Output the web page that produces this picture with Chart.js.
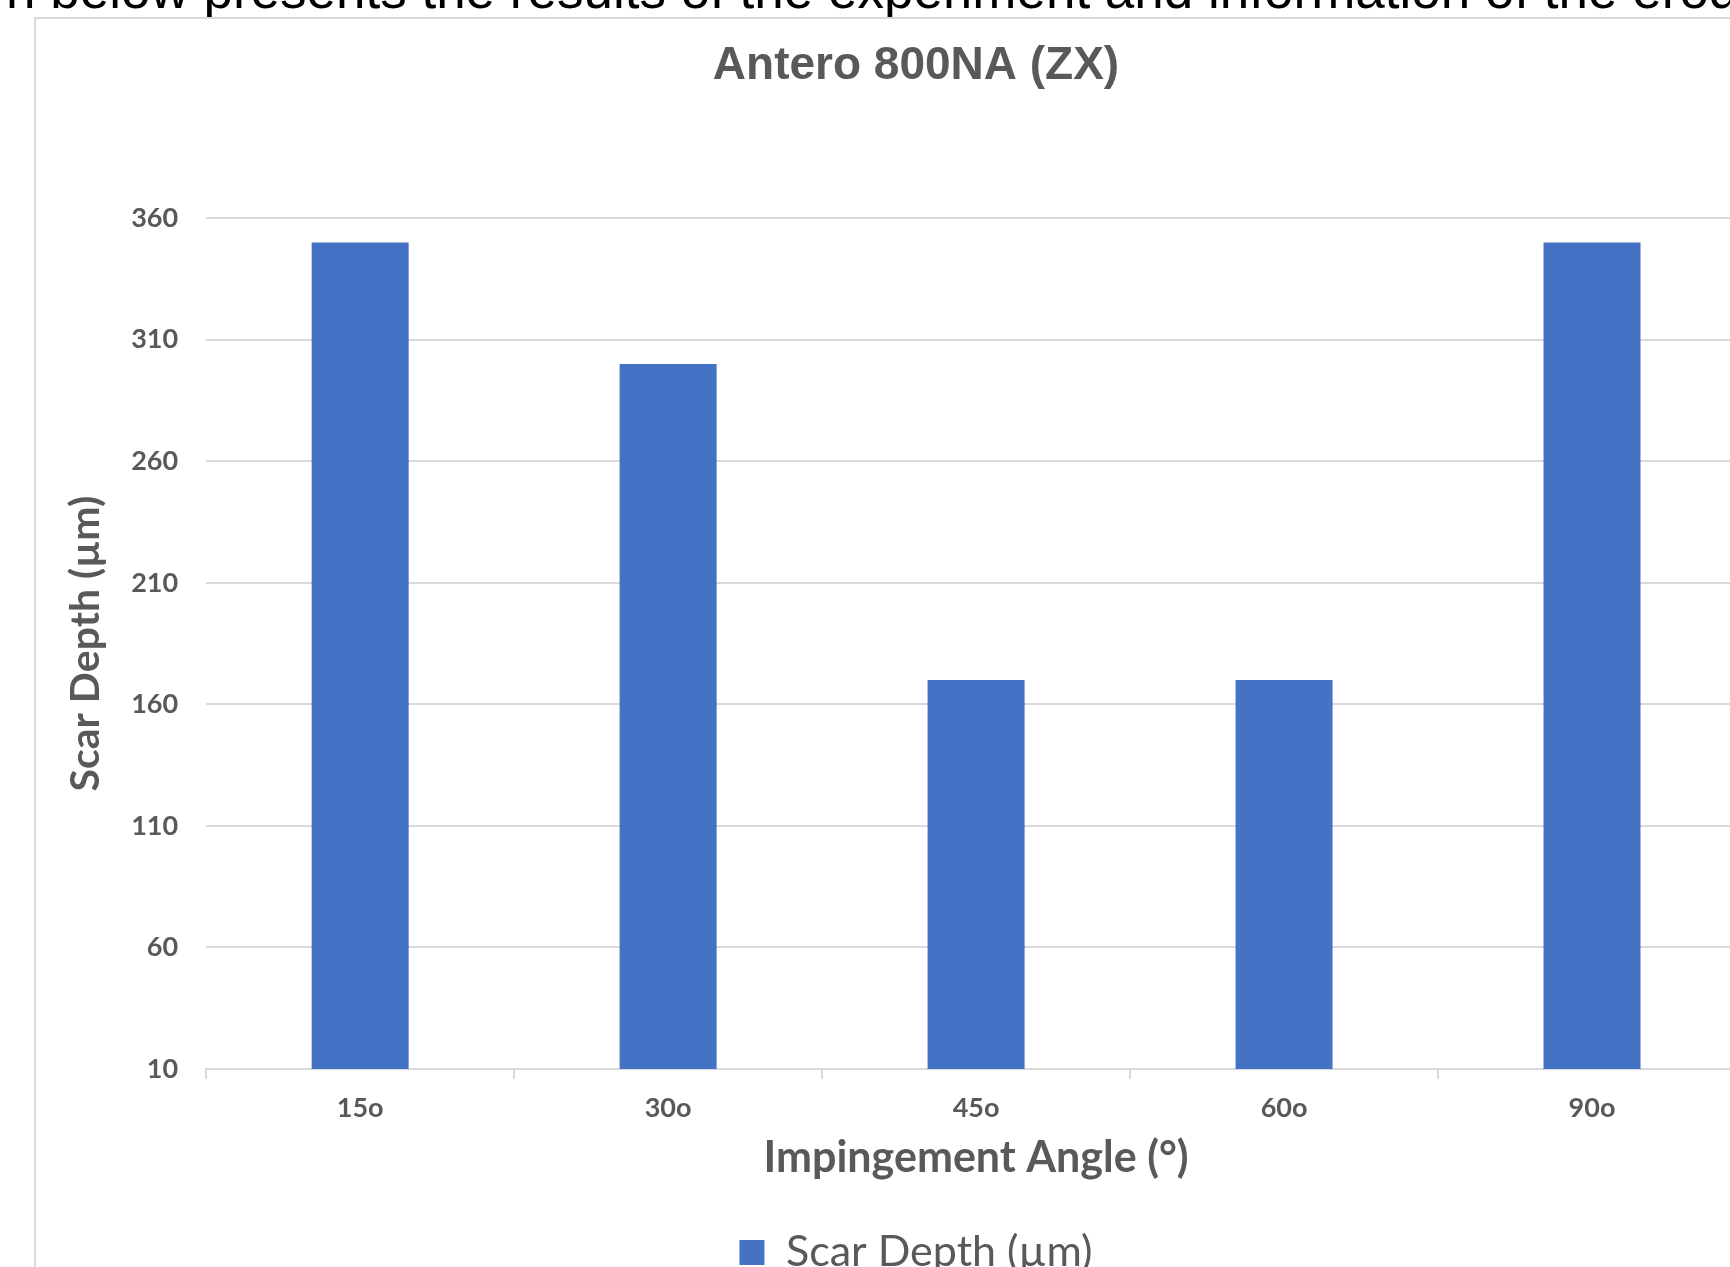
<!DOCTYPE html>
<html>
<head>
<meta charset="utf-8">
<script src="https://cdn.jsdelivr.net/npm/chart.js@4.4.1/dist/chart.umd.min.js"></script>
<style>
    html, body { margin: 0; padding: 0; background: #fff; overflow: hidden; width: 1730px; height: 1267px; }
    #doc-line {
        position: absolute; left: 6px; top: -37px;
        font: 53px/53px "Liberation Sans", Arial, sans-serif;
        color: #000; white-space: nowrap;
    }
    #frame {
        position: absolute; left: 34px; top: 17px;
        width: 1800px; height: 1300px;
        border: 2px solid #d9d9d9; box-sizing: border-box;
    }
    #chart { position: absolute; left: 36px; top: 19px; }
</style>
</head>
<body>
<div id="doc-line">n below presents the results of the experiment and information of the erod</div>
<div id="frame"></div>
<canvas id="chart" width="1760" height="1270"></canvas>
<script>
// --- Data ---
const angles = ['15o', '30o', '45o', '60o', '90o'];
const scarDepth = [350, 300, 170, 170, 350];
const yTicks = [10, 60, 110, 160, 210, 260, 310, 360];

const GREY = '#595959';
const LINE = '#d9d9d9';
const BAR = '#4472c4';

const ctx = document.getElementById('chart').getContext('2d');

new Chart(ctx, {
    type: 'bar',
    data: {
        labels: angles,
        datasets: [{
            label: 'Scar Depth (µm)',
            data: scarDepth,
            backgroundColor: BAR,
            borderWidth: 0,
            categoryPercentage: 1,
            barPercentage: 0.315
        }]
    },
    options: {
        responsive: false,
        animation: false,
        layout: { padding: { left: 50, right: 50, top: 0, bottom: 5 } },
        plugins: {
            title: {
                display: true,
                text: 'Antero 800NA (ZX)',
                color: GREY,
                font: { family: '"Liberation Sans", Arial, sans-serif', size: 46, weight: 'bold' },
                padding: { top: 20, bottom: 124 }
            },
            legend: {
                position: 'bottom',
                labels: {
                    color: GREY,
                    boxWidth: 25,
                    boxHeight: 25,
                    padding: 10,
                    font: { family: 'Lato', size: 43 }
                }
            },
            tooltip: { enabled: false }
        },
        scales: {
            x: {
                offset: true,
                grid: {
                    offset: true,
                    drawOnChartArea: false,
                    color: LINE,
                    lineWidth: 2,
                    tickLength: 10
                },
                border: { color: LINE, width: 2 },
                ticks: {
                    color: GREY,
                    padding: 13,
                    font: { family: 'Lato', size: 27, weight: 'bold' }
                },
                title: {
                    display: true,
                    text: 'Impingement Angle (°)',
                    color: GREY,
                    font: { family: 'Lato', size: 43, weight: 'bold' },
                    padding: { top: -5, bottom: 37 }
                }
            },
            y: {
                min: 10,
                max: 360,
                afterBuildTicks: (axis) => {
                    axis.ticks = yTicks.map(v => ({ value: v }));
                },
                grid: { color: LINE, lineWidth: 2, drawTicks: false },
                border: { display: false },
                ticks: {
                    color: GREY,
                    padding: 28,
                    font: { family: 'Lato', size: 27, weight: 'bold' }
                },
                title: {
                    display: true,
                    text: 'Scar Depth (µm)',
                    color: GREY,
                    font: { family: 'Lato', size: 41, weight: 'bold' },
                    padding: { top: -25, bottom: -7 }
                }
            }
        }
    }
});
</script>
</body>
</html>
